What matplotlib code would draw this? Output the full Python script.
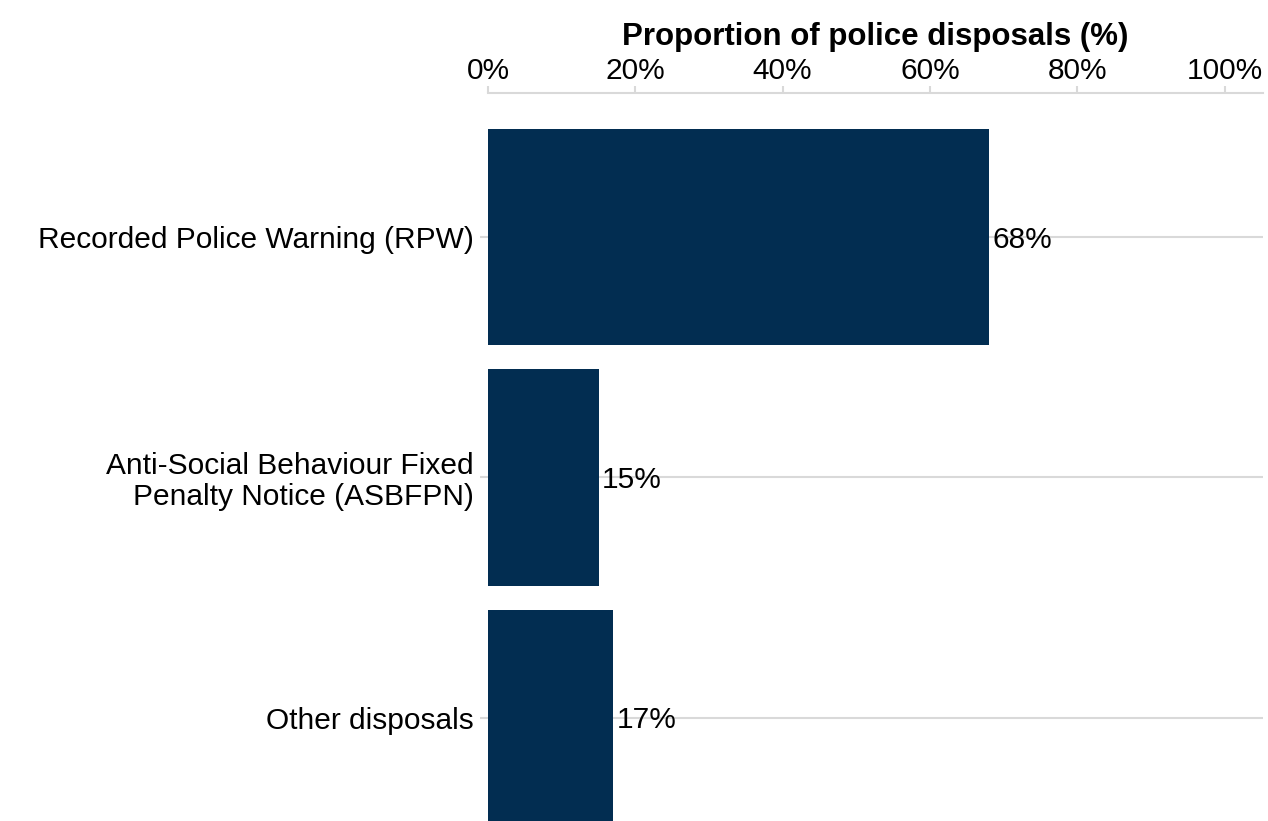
import numpy as np
import matplotlib.pyplot as plt

plt.rcParams['font.family'] = ['Liberation Sans', 'DejaVu Sans']

categories = ['Recorded Police Warning (RPW)',
              'Anti-Social Behaviour Fixed\nPenalty Notice (ASBFPN)',
              'Other disposals']
shares = [68, 15, 17]
xticks = [0, 20, 40, 60, 80, 100]

bar_col = '#022d51'
grey = '#d9d9d9'
fs = 21.5

fig = plt.figure(figsize=(12.68, 8.21), dpi=100)
ax = fig.add_axes([488 / 1268, 0.0, (1263 - 488) / 1268, (821 - 93) / 821])

pos = np.arange(len(categories))
for y in pos:
    ax.axhline(y, color=grey, lw=1.5, zorder=0)
ax.barh(pos, shares, height=0.9, color=bar_col, zorder=2)

# value labels just past the bar ends
for y, v in zip(pos, shares):
    ax.text(v + 0.5, y + 0.01, f'{v}%', va='center', ha='left', fontsize=fs, color='black', zorder=3)

ax.set_xlim(0, 105.2)
ax.set_ylim(2.43, -0.6)
ax.xaxis.tick_top()
ax.xaxis.set_label_position('top')
ax.set_xticks(xticks)
ax.set_xticklabels([f'{t}%' for t in xticks], fontsize=fs)
ax.set_xlabel('Proportion of police disposals (%)', fontsize=22.5, fontweight='bold', labelpad=9)
ax.set_yticks(pos)
ax.set_yticklabels(categories, fontsize=fs, linespacing=1.12)
ax.tick_params(axis='x', colors=grey, labelcolor='black', length=5, width=1.5, pad=0.5)
ax.tick_params(axis='y', colors=grey, labelcolor='black', length=6, width=1.5, pad=4.5)

for s in ['left', 'right', 'bottom']:
    ax.spines[s].set_visible(False)
ax.spines['top'].set_color(grey)
ax.spines['top'].set_linewidth(1.5)

fig.savefig('out.png', dpi=100)
